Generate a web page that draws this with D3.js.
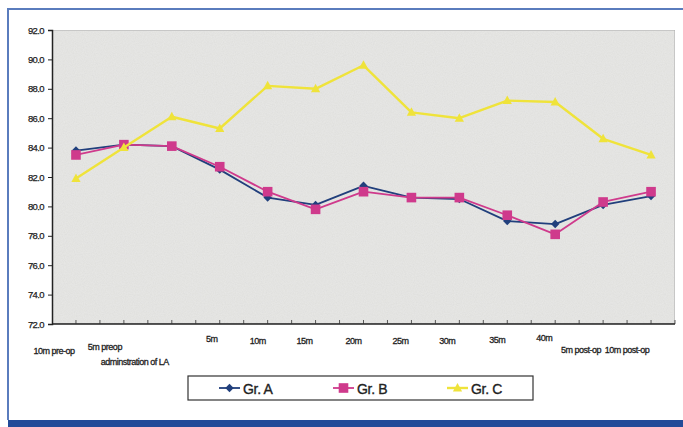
<!DOCTYPE html>
<html>
<head>
<meta charset="utf-8">
<script src="https://cdn.jsdelivr.net/npm/d3@7"></script>
<style>
  html, body { margin: 0; padding: 0; background: #fff; }
  svg { display: block; font-family: "Liberation Sans", Arial, sans-serif; }
</style>
</head>
<body>
<svg id="chart" width="683" height="427"></svg>
<script>
// Time points of the recording
const categories = [
  "10m pre-op", "5m preop", "adminstration of LA", "5m", "10m", "15m",
  "20m", "25m", "30m", "35m", "40m", "5m post-op", "10m post-op"
];

// Mean values per group
const grA = [83.8, 84.2, 84.1, 82.5, 80.6, 80.1, 81.4, 80.6, 80.5, 79.0, 78.8, 80.1, 80.7];
const grB = [83.5, 84.2, 84.1, 82.7, 81.0, 79.8, 81.0, 80.6, 80.6, 79.4, 78.1, 80.3, 81.0];
const grC = [81.9, 84.0, 86.1, 85.3, 88.2, 88.0, 89.6, 86.4, 86.0, 87.2, 87.1, 84.6, 83.5];

const yTicks = [72, 74, 76, 78, 80, 82, 84, 86, 88, 90, 92];

const seriesNames = ["Gr. A", "Gr. B", "Gr. C"];

const series = [
  { name: seriesNames[0], values: grA, color: "#213f7c", marker: "diamond", width: 1.8 },
  { name: seriesNames[1], values: grB, color: "#cf3a8c", marker: "square",  width: 1.8 },
  { name: seriesNames[2], values: grC, color: "#efe33a", marker: "triangle", width: 2.4 }
];

const svg = d3.select("#chart");
const W = 683, H = 427;
const plot = { left: 52, right: 675, top: 30, bottom: 324 };

// Grain filter for the plot background
const defs = svg.append("defs");
const grain = defs.append("filter").attr("id", "grain")
  .attr("x", 0).attr("y", 0).attr("width", 1).attr("height", 1);
grain.append("feTurbulence").attr("type", "fractalNoise")
  .attr("baseFrequency", 0.9).attr("numOctaves", 2).attr("seed", 3).attr("result", "noise");
grain.append("feColorMatrix").attr("in", "noise").attr("type", "matrix")
  .attr("values", "0 0 0 0 0.55  0 0 0 0 0.55  0 0 0 0 0.54  0 0 0 0.28 0")
  .attr("result", "speck");
grain.append("feComposite").attr("in", "speck").attr("in2", "SourceGraphic").attr("operator", "in").attr("result", "sp");
grain.append("feMerge").call(m => {
  m.append("feMergeNode").attr("in", "SourceGraphic");
  m.append("feMergeNode").attr("in", "sp");
});

// Outer frame
svg.append("line").attr("x1", 8).attr("x2", W).attr("y1", 9).attr("y2", 9)
  .attr("stroke", "#5a7cbd").attr("stroke-width", 2);
svg.append("line").attr("x1", 8).attr("x2", 8).attr("y1", 8).attr("y2", 420)
  .attr("stroke", "#5a7cbd").attr("stroke-width", 2);
svg.append("rect").attr("x", 8).attr("y", 420).attr("width", W - 8).attr("height", 7)
  .attr("fill", "#224a98");

// Scales
const x = d3.scaleBand().domain(categories).range([plot.left, plot.right]);
const xc = d => x(d) + x.bandwidth() / 2;
const y = d3.scaleLinear().domain([72, 92]).range([plot.bottom, plot.top]);

// Plot area
svg.append("rect")
  .attr("x", plot.left).attr("y", plot.top)
  .attr("width", plot.right - plot.left).attr("height", plot.bottom - plot.top)
  .attr("fill", "#e8e8e6").attr("stroke", "#a8a8a8").attr("stroke-width", 1)
  .attr("filter", "url(#grain)");

// Y axis
const yAxis = svg.append("g").attr("transform", `translate(${plot.left},0)`)
  .call(d3.axisLeft(y).tickValues(yTicks).tickFormat(d3.format(".1f")).tickSize(4).tickPadding(4));
yAxis.select(".domain").attr("stroke", "#222").attr("stroke-width", 1.5);
yAxis.selectAll(".tick line").attr("stroke", "#222");
yAxis.selectAll(".tick text")
  .attr("fill", "#222").attr("font-size", 9.5).attr("letter-spacing", -0.6)
  .attr("stroke", "#222").attr("stroke-width", 0.25)
  .attr("font-family", "Liberation Sans, Arial, sans-serif");

// X axis baseline with ticks at category centres and boundaries
const xg = svg.append("g");
xg.append("line").attr("x1", plot.left).attr("x2", plot.right)
  .attr("y1", plot.bottom).attr("y2", plot.bottom)
  .attr("stroke", "#222").attr("stroke-width", 1.5);
const tickXs = [];
categories.forEach(c => { tickXs.push(xc(c)); tickXs.push(x(c) + x.bandwidth()); });
xg.selectAll("line.t").data(tickXs).join("line").attr("class", "t")
  .attr("x1", d => d).attr("x2", d => d)
  .attr("y1", plot.bottom - 4).attr("y2", plot.bottom)
  .attr("stroke", "#333").attr("stroke-width", 0.8);

// Category labels (staggered placement)
const labelShift = [[-22, 30], [-19, 26], [-37, 41], [-8, 18], [-10, 20], [-11, 20], [-10, 20],
                    [-11, 20], [-12, 20], [-10, 19], [-11, 17], [-22, 29], [-24, 29]];
svg.append("g").selectAll("text").data(categories).join("text")
  .attr("x", (d, i) => xc(d) + labelShift[i][0])
  .attr("y", (d, i) => plot.bottom + labelShift[i][1])
  .attr("text-anchor", "middle")
  .attr("font-size", 9).attr("letter-spacing", -0.5)
  .attr("fill", "#1e1e1e").attr("stroke", "#1e1e1e").attr("stroke-width", 0.3)
  .text(d => d);

// Marker shapes
function marker(sel, type, color) {
  if (type === "diamond") {
    sel.append("path").attr("d", "M0,-4.2L4.2,0L0,4.2L-4.2,0Z").attr("fill", color);
  } else if (type === "square") {
    sel.append("rect").attr("x", -4.8).attr("y", -4.8).attr("width", 9.6).attr("height", 9.6).attr("fill", color);
  } else {
    sel.append("path").attr("d", "M0,-5L4.6,3.5L-4.6,3.5Z").attr("fill", color);
  }
}

const line = d3.line().x((d, i) => xc(categories[i])).y(d => y(d));

series.forEach(s => {
  const g = svg.append("g");
  g.append("path").datum(s.values).attr("d", line)
    .attr("fill", "none").attr("stroke", s.color).attr("stroke-width", s.width)
    .attr("stroke-linejoin", "round");
  g.selectAll("g.m").data(s.values).join("g").attr("class", "m")
    .attr("transform", (d, i) => `translate(${xc(categories[i])},${y(d)})`)
    .each(function () { marker(d3.select(this), s.marker, s.color); });
});

// Legend
const legend = svg.append("g");
legend.append("rect").attr("x", 188).attr("y", 376).attr("width", 345).attr("height", 24)
  .attr("fill", "#fff").attr("stroke", "#333").attr("stroke-width", 1.2);
const legendX = [219, 333, 447];
series.forEach((s, i) => {
  const lg = legend.append("g").attr("transform", `translate(${legendX[i]},388)`);
  lg.append("line").attr("x1", 0).attr("x2", 21).attr("y1", 0).attr("y2", 0)
    .attr("stroke", s.color).attr("stroke-width", s.width);
  const mk = lg.append("g").attr("transform", "translate(10.5,0)");
  marker(mk, s.marker, s.color);
  lg.append("text").attr("x", 24).attr("y", 5.5)
    .attr("font-size", 14).attr("fill", "#222").attr("letter-spacing", -0.3)
    .attr("stroke", "#222").attr("stroke-width", 0.35)
    .text(s.name);
});
</script>
</body>
</html>
